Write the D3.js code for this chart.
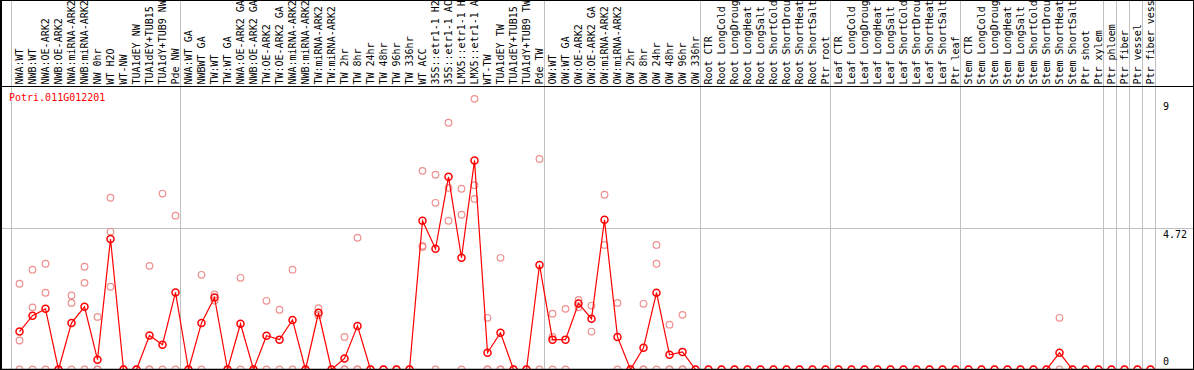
<!DOCTYPE html>
<html>
<head>
<meta charset="utf-8">
<script src="https://cdn.jsdelivr.net/npm/d3@7"></script>
<style>
  body { margin: 0; background: #fff; }
  svg { display: block; }
  text { font-family: "DejaVu Sans Mono", monospace; font-size: 10px; }
</style>
</head>
<body>
<div id="chart"></div>
<script>
let geneName = "Potri.011G012201"

// labels as printed in the header (long names are cut at 14 characters)
let sampleLabels = [
    "NWA:WT", "NWB:WT", "NWA:OE-ARK2", "NWB:OE-ARK2", "NWA:miRNA-ARK2", "NWB:miRNA-ARK2", "NW 0hr", "WT H2O", "WT-NW",
    "TUA1dEY NW", "TUA1dEY+TUB15", "TUA1dY+TUB9 NW", "Pde NW",
    "NWA:WT GA", "NWBWT GA", "TW:WT", "TW:WT GA", "NWA:OE-ARK2 GA", "NWB:OE-ARK2 GA", "TW:OE-ARK2", "TW:OE-ARK2 GA",
    "NWA:miRNA-ARK2", "NWB:miRNA-ARK2", "TW:miRNA-ARK2", "TW:miRNA-ARK2", "TW 2hr", "TW 8hr", "TW 24hr", "TW 48hr",
    "TW 96hr", "TW 336hr", "WT ACC", "35S::etr1-1 H2", "35S::etr1-1 AC", "LMX5::etr1-1 H", "LMX5::etr1-1 A",
    "WT-TW", "TUA1dEY TW", "TUA1dEY+TUB15", "TUA1dY+TUB9 TW", "Pde TW",
    "OW:WT", "OW:WT GA", "OW:OE-ARK2", "OW:OE-ARK2 GA", "OW:miRNA-ARK2", "OW:miRNA-ARK2", "OW 2hr", "OW 8hr",
    "OW 24hr", "OW 48hr", "OW 96hr", "OW 336hr",
    "Root CTR", "Root LongCold", "Root LongDroug", "Root LongHeat", "Root LongSalt", "Root ShortCold",
    "Root ShortDrou", "Root ShortHeat", "Root ShortSalt", "Ptr root",
    "Leaf CTR", "Leaf LongCold", "Leaf LongDroug", "Leaf LongHeat", "Leaf LongSalt", "Leaf ShortCold",
    "Leaf ShortDrou", "Leaf ShortHeat", "Leaf ShortSalt", "Ptr leaf",
    "Stem CTR", "Stem LongCold", "Stem LongDroug", "Stem LongHeat", "Stem LongSalt", "Stem ShortCold",
    "Stem ShortDrou", "Stem ShortHeat", "Stem ShortSalt", "Ptr shoot", "Ptr xylem",
    "Ptr phloem", "Ptr fiber", "Ptr vessel", "Ptr fiber vess"
]

// number of samples in each block between the grey separators
let groupSizes = [13, 28, 12, 10, 10, 11, 1, 1, 1, 1]

// mean expression (red line)
let meanValues = [
    1.27, 1.80, 2.03, 0, 1.56, 2.10, 0.33, 4.37, 0, 0, 1.14, 0.83, 2.58,
    0, 1.56, 2.41, 0, 1.53, 0, 1.13, 1.00, 1.66, 0, 1.90, 0, 0.37, 1.46, 0, 0, 0, 0,
    4.98, 4.04, 6.45, 3.74, 7.00, 0.56, 1.23, 0, 0, 3.50,
    1.00, 1.00, 2.21, 1.70, 5.01, 1.09, 0, 0.73, 2.57, 0.49, 0.59, 0,
    0, 0, 0, 0, 0, 0, 0, 0, 0, 0,
    0, 0, 0, 0, 0, 0, 0, 0, 0, 0,
    0, 0, 0, 0, 0, 0, 0, 0.56, 0, 0, 0,
    0, 0, 0, 0
]

// individual replicates (pink circles)
let replicateValues = [
    [2.87, 0.97, 0], [3.34, 2.08, 0], [3.54, 2.57, 0], [0, 0, 0], [2.48, 2.23, 0], [3.44, 2.90, 0],
    [1.76, 0, 0], [5.75, 4.61, 2.77], [0, 0], [0, 0], [3.47, 0, 0], [5.89, 0], [5.15, 0],
    [0, 0], [3.17, 0], [2.51, 2.31], [0, 0], [3.07, 0], [0, 0], [2.30, 0], [2.00, 0], [3.34, 0],
    [0, 0], [2.05, 1.82], [0, 0], [1.09, 0, 0], [4.41, 0, 0], [0, 0], [0, 0], [0, 0], [0, 0],
    [6.65, 4.14, 4.10], [6.52, 5.58, 0], [8.26, 6.08, 4.98], [6.05, 5.18, 0], [9.06, 6.17, 5.71],
    [1.73, 0, 0], [3.74, 0, 0], [0, 0], [0, 0], [7.05, 0],
    [1.87, 1.09, 0], [2.03, 0], [2.33, 2.08], [2.14, 1.27], [5.85, 4.17], [2.23, 0], [0, 0],
    [2.20, 0, 0], [4.17, 3.54, 0], [1.50, 0, 0], [1.83, 0, 0], [0],
    [0], [0], [0], [0], [0], [0], [0], [0], [0], [0],
    [0], [0], [0], [0], [0], [0], [0], [0], [0], [0],
    [0], [0], [0], [0], [0], [0], [0], [1.73, 0], [0], [0], [0],
    [0], [0], [0], [0]
]

let yMax = 9.44
let yTicks = [9, 4.72, 0]

var width = 1194, height = 370
var headerBottom = 86.5

var svg = d3.select("#chart")
    .append("svg")
    .attr("width", width)
    .attr("height", height)

var x = d3.scalePoint()
    .domain(d3.range(sampleLabels.length))
    .range([19.5, 19.5 + 13 * (sampleLabels.length - 1)])

var y = d3.scaleLinear()
    .domain([0, yMax])
    .range([369.5, 87.5])

// group separators
let bounds = [0]
groupSizes.forEach((s) => bounds.push(bounds[bounds.length - 1] + s))

svg.selectAll(".sep")
    .data(bounds)
    .enter().append("line")
    .attr("class", "sep")
    .attr("x1", (k) => x(0) - 8 + 13 * k)
    .attr("x2", (k) => x(0) - 8 + 13 * k)
    .attr("y1", 0)
    .attr("y2", height)
    .attr("stroke", "#c0c0c0")
    .attr("stroke-width", 1)

// middle grid line
svg.append("line")
    .attr("x1", 0).attr("x2", width)
    .attr("y1", y(yMax / 2)).attr("y2", y(yMax / 2))
    .attr("stroke", "#c0c0c0")

// rotated sample labels
svg.selectAll(".lbl")
    .data(sampleLabels)
    .enter().append("text")
    .attr("class", "lbl")
    .attr("transform", (d, i) => "translate(" + (x(i) + 3.5) + "," + (headerBottom - 2) + ") rotate(-90)")
    .attr("fill", "#000")
    .text((d) => d)

// frame
svg.append("line")
    .attr("x1", 0).attr("x2", width)
    .attr("y1", headerBottom).attr("y2", headerBottom)
    .attr("stroke", "#000")
svg.append("rect")
    .attr("x", 0.5).attr("y", 0.5)
    .attr("width", 1193).attr("height", 369)
    .attr("fill", "none")
    .attr("stroke", "#000")
svg.append("line")
    .attr("x1", 1.5).attr("x2", 1.5)
    .attr("y1", 0).attr("y2", height)
    .attr("stroke", "#000")

// gene name
svg.append("text")
    .attr("x", 9)
    .attr("y", 101)
    .attr("fill", "#ff0000")
    .text(geneName)

// y tick labels on the right
svg.selectAll(".ytick")
    .data(yTicks)
    .enter().append("text")
    .attr("class", "ytick")
    .attr("x", 1163)
    .attr("y", (d) => Math.min(y(d) + 9.5, 365))
    .attr("fill", "#000")
    .text((d) => d)

// replicate points
let reps = []
replicateValues.forEach((arr, i) => arr.forEach((v) => reps.push({ i: i, v: v })))

svg.selectAll(".rep")
    .data(reps)
    .enter().append("circle")
    .attr("class", "rep")
    .attr("cx", (d) => x(d.i))
    .attr("cy", (d) => y(d.v))
    .attr("r", 3.3)
    .attr("fill", "none")
    .attr("stroke", "#ee9090")
    .attr("stroke-width", 1.2)

// mean line
var line = d3.line()
    .x((d, i) => x(i))
    .y((d) => y(d))

svg.append("path")
    .datum(meanValues)
    .attr("d", line)
    .attr("fill", "none")
    .attr("stroke", "#ff0000")
    .attr("stroke-width", 1.2)

svg.selectAll(".dot")
    .data(meanValues)
    .enter().append("circle")
    .attr("class", "dot")
    .attr("cx", (d, i) => x(i))
    .attr("cy", (d) => y(d))
    .attr("r", 3.5)
    .attr("fill", "none")
    .attr("stroke", "#ff0000")
    .attr("stroke-width", 1.5)

// bottom axis line
svg.append("line")
    .attr("x1", 0).attr("x2", width)
    .attr("y1", 369.5).attr("y2", 369.5)
    .attr("stroke", "#000")
    .attr("stroke-width", 1.5)
</script>
</body>
</html>
